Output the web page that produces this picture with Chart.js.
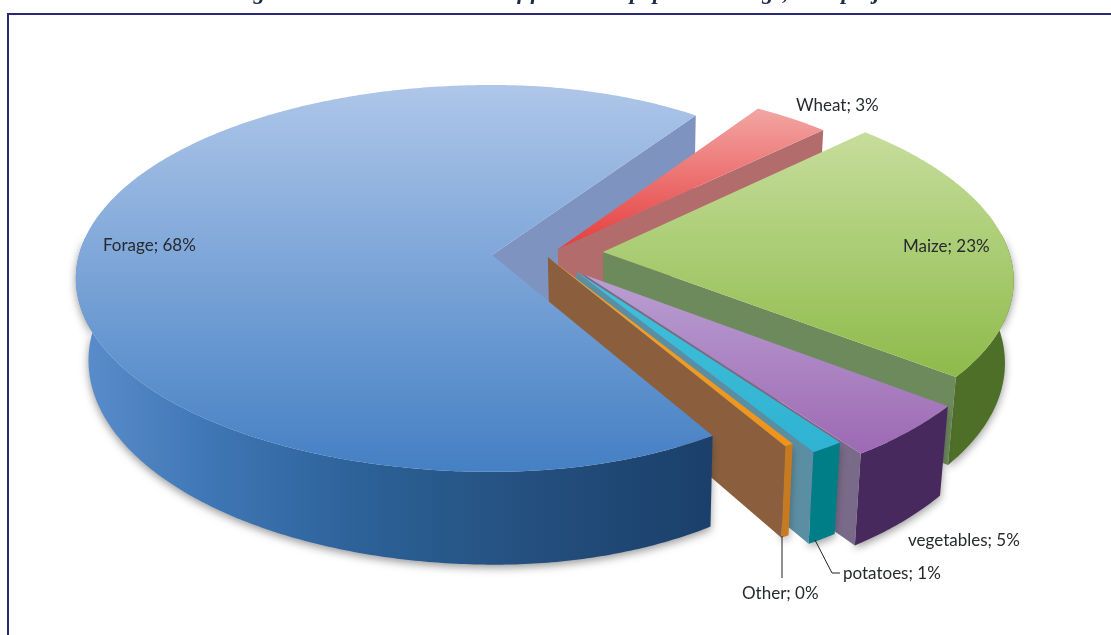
<!DOCTYPE html>
<html>
<head>
<meta charset="utf-8">
<title>Land use shares</title>
<script src="https://cdn.jsdelivr.net/npm/chart.js@4/dist/chart.umd.js"></script>
<style>
    html, body { margin: 0; padding: 0; background: #fff; overflow: hidden; }
    #wrap { position: relative; width: 1111px; height: 635px; }
    #frame { position: absolute; left: 7px; top: 13px; right: 0; bottom: 0; border-top: 2px solid #29297a; border-left: 2px solid #29297a; }
    canvas { position: absolute; left: 0; top: 0; }
</style>
</head>
<body>
<div id="wrap">
    <div id="frame"></div>
    <canvas id="pie" width="1111" height="635"></canvas>
</div>
<script>
// Data
const sliceNames = ['Forage', 'Wheat', 'Maize', 'vegetables', 'potatoes', 'Other'];
const sliceValues = [67.6, 3.4, 22.8, 4.7, 1.2, 0.3];

// Slice colours: top face (light, dark), cut wall, outer rim
const topLight = ['#aec6e9', '#f2a6a4', '#c6dd9b', '#ba9fd2', '#42c0da', '#f7a32a'];
const topDark = ['#4480c4', '#e63c3c', '#8dbb4a', '#9d69b4', '#2fb3d2', '#f09318'];
const wallColors = ['#7e93bf', '#b36c6c', '#6d8a5c', '#7a6a8a', '#5b8ea3', '#8b5f3e'];
const rimColors = ['#24507f', '#a85656', '#4d6f28', '#47295e', '#007e88', '#c87a20'];

// How far each slice is pulled out and how long it is, in units of the pie radius
const sliceShift = [[0, 0], [0.16, -0.03], [0.269, -0.016], [0.222, 0.104], [0.202, 0.087], [0.135, 0.01]];
const sliceScale = [1, 0.985, 0.985, 1, 0.965, 1.015];

// Label anchors and leader lines
const labelAt = [[103, 246], [796, 106], [903, 247], [908, 541], [843, 574], [742, 594]];
const leaders = [
    [[782, 536], [782, 578]],
    [[815, 540], [832, 573], [840, 573]]
];

// Pie tilt and perspective
const tilt = { sx: 1.62, sy: 0.7475, k: 0.121, depth: 0.32, vanishX: 629, vanishDist: 3620 };

function project(arc, u, v, down) {
    const w = 1 - tilt.k * v;
    const R = arc.outerRadius;
    let x = arc.x + R * tilt.sx * u / w;
    let y = arc.y + R * tilt.sy * v / w;
    if (down) {
        const d = R * tilt.depth * down / w;
        y += d;
        x += (tilt.vanishX - x) * d / tilt.vanishDist;
    }
    return [x, y];
}

function arcPoints(arc, i, down, frontOnly) {
    const pts = [];
    const steps = Math.max(2, Math.ceil((arc.endAngle - arc.startAngle) / 0.01));
    for (let s = 0; s <= steps; s++) {
        const t = arc.startAngle + (arc.endAngle - arc.startAngle) * s / steps;
        if (frontOnly && Math.sin(t) < -0.1) continue;
        // The far right of the big slice falls off a little faster than the ellipse
        const pinch = i === 0 ? 1 - 0.1 * Math.pow(Math.max(0, Math.cos(t)), 2) : sliceScale[i];
        pts.push(project(arc, Math.cos(t) * pinch + sliceShift[i][0], Math.sin(t) * pinch + sliceShift[i][1], down));
    }
    return pts;
}

function fillPath(ctx, pts, fill) {
    ctx.beginPath();
    pts.forEach((p, n) => n ? ctx.lineTo(p[0], p[1]) : ctx.moveTo(p[0], p[1]));
    ctx.closePath();
    ctx.fillStyle = fill;
    ctx.fill();
}

function drawWall(ctx, arc, i, down) {
    const top = arcPoints(arc, i, 0);
    const low = arcPoints(arc, i, down);
    const a = project(arc, sliceShift[i][0], sliceShift[i][1], 0);
    const b = project(arc, sliceShift[i][0], sliceShift[i][1], down);
    fillPath(ctx, [a, top[top.length - 1], low[low.length - 1], b], wallColors[i]);
}

function drawRim(ctx, arc, i) {
    const top = arcPoints(arc, i, 0, true);
    const low = arcPoints(arc, i, 1, true);
    if (top.length < 2) return;
    let fill = rimColors[i];
    if (i === 0) {
        fill = ctx.createLinearGradient(80, 0, 713, 0);
        fill.addColorStop(0, '#5b8dcb');
        fill.addColorStop(0.2, '#3f77b6');
        fill.addColorStop(0.45, '#2c6197');
        fill.addColorStop(0.7, '#24507f');
        fill.addColorStop(1, '#1b3f6a');
    }
    ctx.save();
    ctx.shadowColor = 'rgba(50,50,50,0.5)';
    ctx.shadowBlur = 9;
    ctx.shadowOffsetY = 3;
    fillPath(ctx, top.concat(low.reverse()), fill);
    ctx.restore();
}

function drawTop(ctx, arc, i) {
    const pts = arcPoints(arc, i, 0);
    const apex = project(arc, sliceShift[i][0], sliceShift[i][1], 0);
    const ys = pts.concat([apex]).map(p => p[1]);
    const fill = ctx.createLinearGradient(0, Math.min(...ys), 0, Math.max(...ys));
    fill.addColorStop(0, topLight[i]);
    fill.addColorStop(1, topDark[i]);
    fillPath(ctx, [apex].concat(pts), fill);
}

// Draws the arcs of the pie as an exploded 3D pie
const pie3d = {
    id: 'pie3d',
    beforeDatasetsDraw(chart) {
        const ctx = chart.ctx;
        const arcs = chart.getDatasetMeta(0).data;
        ctx.save();
        drawWall(ctx, arcs[0], 0, 1.08);
        for (let i = 1; i < arcs.length; i++) {
            drawRim(ctx, arcs[i], i);
            drawWall(ctx, arcs[i], i, 1);
            drawTop(ctx, arcs[i], i);
        }
        // Forage sits in front of the brown wall
        drawRim(ctx, arcs[0], 0);
        drawTop(ctx, arcs[0], 0);
        ctx.restore();
        return false;
    },
    afterDraw(chart) {
        const ctx = chart.ctx;
        ctx.save();
        ctx.strokeStyle = '#222';
        ctx.lineWidth = 1;
        leaders.forEach(line => {
            ctx.beginPath();
            line.forEach((p, n) => n ? ctx.lineTo(p[0], p[1]) : ctx.moveTo(p[0], p[1]));
            ctx.stroke();
        });
        ctx.fillStyle = '#26292e';
        ctx.font = '17px Lato';
        ctx.textBaseline = 'middle';
        sliceNames.forEach((name, i) => {
            ctx.fillText(`${name}; ${Math.round(sliceValues[i])}%`, labelAt[i][0], labelAt[i][1]);
        });
        // Title is cut off by the top edge of the picture
        ctx.fillStyle = '#1c2c44';
        ctx.font = 'italic bold 23px "Liberation Serif"';
        ctx.textBaseline = 'alphabetic';
        ctx.fillText('Figure 2.1: Land use shares of farm total pop. in holdings, on a project', 232, -1);
        ctx.restore();
    }
};

new Chart(document.getElementById('pie'), {
    type: 'pie',
    data: {
        labels: sliceNames,
        datasets: [{ data: sliceValues, backgroundColor: topDark, borderWidth: 0 }]
    },
    options: {
        responsive: false,
        animation: false,
        rotation: 150.6,
        layout: { padding: { left: 0, right: 127, top: 0, bottom: 125 } },
        plugins: { legend: { display: false }, tooltip: { enabled: false } }
    },
    plugins: [pie3d]
});
</script>
</body>
</html>
